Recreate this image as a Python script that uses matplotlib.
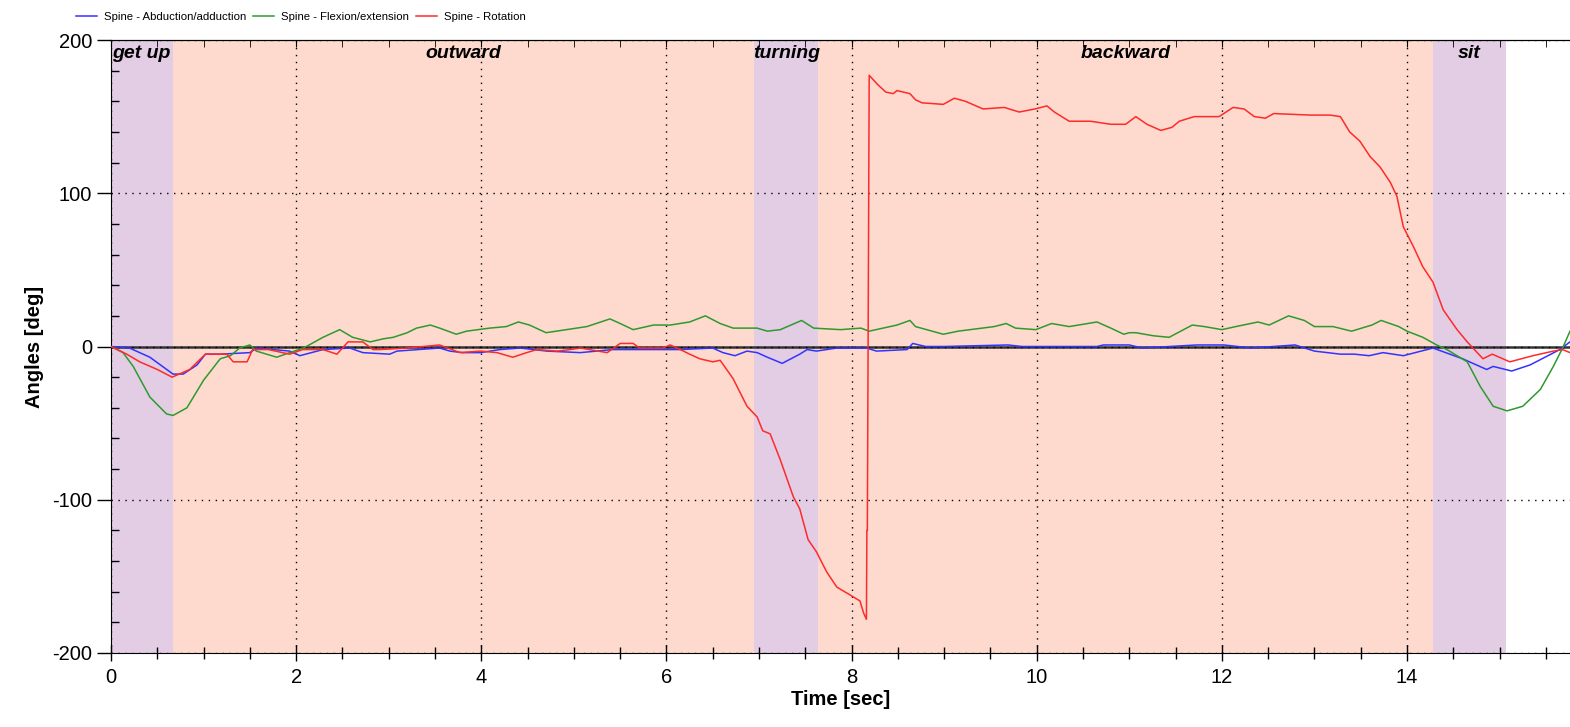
import matplotlib
matplotlib.use("Agg")
from matplotlib import pyplot as plt
from matplotlib.ticker import MultipleLocator

plt.rcParams['font.family'] = ['Liberation Sans', 'DejaVu Sans']
plt.rcParams['axes.unicode_minus'] = False

# Spine - Abduction/adduction (blue)
t_abd = [0, 0.2, 0.42, 0.67, 0.78, 0.93, 1.02, 1.18, 1.5, 1.57, 1.93, 2.04, 2.29, 2.58, 2.72,
         3.01, 3.09, 3.55, 3.66, 3.8, 3.99, 4.2, 4.42, 4.71, 5.07, 5.42, 5.79, 6.15, 6.5, 6.61,
         6.74, 6.87, 6.98, 7.09, 7.25, 7.44, 7.52, 7.62, 7.84, 8.16, 8.27, 8.6, 8.66, 8.8, 9.0,
         9.69, 9.84, 10.11, 10.65, 10.72, 10.92, 11.0, 11.14, 11.73, 12.02, 12.32, 12.79, 13.0,
         13.28, 13.43, 13.59, 13.74, 13.96, 14.28, 14.6, 14.86, 14.93, 15.13, 15.33, 15.65, 15.76]
abd = [0, -1, -7, -18, -18, -12, -5, -5, -4, -1, -3, -6, -2, -1, -4,
       -5, -3, -1, -3, -4, -4, -2, -1, -3, -4, -2, -2, -2, -1, -4,
       -6, -3, -4, -7, -11, -5, -2, -3, -1, -1, -3, -2, 2, 0, 0,
       1, 0, 0, 0, 1, 1, 1, -1, 1, 1, -1, 1, -3,
       -5, -5, -6, -4, -6, -1, -8, -15, -13, -16, -12, -2, 3]

# Spine - Flexion/extension (green)
t_flex = [0, 0.13, 0.24, 0.42, 0.6, 0.67, 0.82, 1.0, 1.18, 1.29, 1.39, 1.5, 1.57, 1.79, 1.93,
          2.08, 2.29, 2.47, 2.61, 2.8, 2.94, 3.05, 3.2, 3.3, 3.45, 3.55, 3.73, 3.84, 4.09, 4.27,
          4.4, 4.52, 4.7, 4.92, 5.14, 5.39, 5.5, 5.64, 5.86, 6.04, 6.25, 6.42, 6.58, 6.72, 6.87,
          6.98, 7.09, 7.23, 7.46, 7.59, 7.88, 8.1, 8.19, 8.49, 8.63, 8.69, 8.99, 9.15, 9.54,
          9.67, 9.77, 9.99, 10.16, 10.35, 10.65, 10.8, 10.94, 11.0, 11.07, 11.26, 11.43, 11.68,
          11.81, 12.0, 12.15, 12.39, 12.51, 12.72, 12.89, 13.0, 13.2, 13.4, 13.62, 13.72, 13.91,
          14.0, 14.17, 14.32, 14.43, 14.65, 14.79, 14.93, 15.08, 15.25, 15.44, 15.58, 15.68, 15.76]
flex = [0, -4, -13, -33, -44, -45, -40, -22, -8, -6, -1, 1, -3, -7, -4,
        -1, 6, 11, 6, 3, 5, 6, 9, 12, 14, 12, 8, 10, 12, 13,
        16, 14, 9, 11, 13, 18, 15, 11, 14, 14, 16, 20, 15, 12, 12,
        12, 10, 11, 17, 12, 11, 12, 10, 14, 17, 13, 8, 10, 13,
        15, 12, 11, 15, 13, 16, 12, 8, 9, 9, 7, 6, 14,
        13, 11, 13, 16, 14, 20, 17, 13, 13, 10, 14, 17, 13,
        10, 6, 1, -2, -10, -26, -39, -42, -39, -28, -13, -1, 10]

# Spine - Rotation (red)
t_rot = [0, 0.17, 0.31, 0.5, 0.66, 0.85, 1.02, 1.25, 1.32, 1.47, 1.53, 1.7, 1.93, 2.07, 2.29,
         2.44, 2.56, 2.72, 2.83, 2.9, 3.2, 3.55, 3.77, 3.99, 4.17, 4.34, 4.49, 4.6, 4.82, 4.96,
         5.07, 5.36, 5.5, 5.64, 5.71, 5.96, 6.04, 6.15, 6.25, 6.36, 6.5, 6.58, 6.72, 6.87, 6.98,
         7.04, 7.12, 7.23, 7.37, 7.44, 7.53, 7.62, 7.73, 7.84, 7.98, 8.09, 8.13, 8.16, 8.165,
         8.17, 8.19, 8.28, 8.37, 8.45, 8.49, 8.63, 8.69, 8.76, 8.99, 9.11, 9.23, 9.42, 9.65,
         9.81, 9.98, 10.11, 10.19, 10.35, 10.58, 10.8, 10.96, 11.07, 11.19, 11.34, 11.46, 11.54,
         11.7, 11.97, 12.12, 12.24, 12.35, 12.47, 12.56, 12.96, 13.17, 13.28, 13.38, 13.49, 13.6,
         13.71, 13.82, 13.89, 13.96, 14.07, 14.17, 14.28, 14.39, 14.54, 14.65, 14.82, 14.92,
         15.11, 15.36, 15.58, 15.68, 15.76]
rot = [0, -5, -10, -15, -20, -15, -5, -5, -10, -10, -2, -2, -5, -2, -2,
       -5, 3, 3, -2, -2, -1, 1, -4, -3, -4, -7, -4, -2, -3, -2,
       -1, -4, 2, 2, -1, -1, 1, -2, -5, -8, -10, -9, -21, -39, -46,
       -55, -57, -74, -98, -106, -126, -134, -147, -157, -162, -166, -174, -178, -120,
       -120, 177, 171, 166, 165, 167, 165, 161, 159, 158, 162, 160, 155, 156,
       153, 155, 157, 153, 147, 147, 145, 145, 150, 145, 141, 143, 147,
       150, 150, 156, 155, 150, 149, 152, 151, 151, 150, 140, 134, 124,
       117, 107, 98, 78, 65, 52, 42, 24, 11, 3, -8, -5,
       -10, -6, -3, -2, -4]

# phases of the movement
phase_names = ['get up', 'outward', 'turning', 'backward', 'sit']
phase_start = [0, 0.67, 6.95, 7.64, 14.28]
phase_end = [0.67, 6.95, 7.64, 14.28, 15.07]
phase_colors = ['#E2CDE4', '#FDDACD', '#E2CDE4', '#FDDACD', '#E2CDE4']

fig = plt.figure(figsize=(15.7, 7.27), dpi=100)
ax = fig.add_axes([111 / 1570, 1 - 653 / 727, 1 - 111 / 1570, 613 / 727])

for s, e, c in zip(phase_start, phase_end, phase_colors):
    ax.axvspan(s, e, color=c, lw=0, zorder=0)

ax.axhline(0, color='#333333', lw=1.8, zorder=2)
l1, = ax.plot(t_abd, abd, color='#3333FF', lw=1.1, zorder=3, label='Spine - Abduction/adduction')
l2, = ax.plot(t_flex, flex, color='#2E9A2E', lw=1.1, zorder=3, label='Spine - Flexion/extension')
l3, = ax.plot(t_rot, rot, color='#FF2A2A', lw=1.1, zorder=3, label='Spine - Rotation')

# phase labels
for i, name in enumerate(phase_names):
    if i == 0:
        ax.text(phase_start[i] + 0.01, 191, name, ha='left', va='center',
                fontsize=14, fontweight='bold', fontstyle='italic')
    else:
        ax.text((phase_start[i] + phase_end[i]) / 2, 191, name, ha='center', va='center',
                fontsize=14, fontweight='bold', fontstyle='italic')

ax.set_xlim(0, 15.76)
ax.set_ylim(-200, 200)
ax.xaxis.set_major_locator(MultipleLocator(2))
ax.xaxis.set_minor_locator(MultipleLocator(0.5))
ax.yaxis.set_major_locator(MultipleLocator(100))
ax.yaxis.set_minor_locator(MultipleLocator(20))
ax.grid(which='major', color='black', linestyle=(0, (1, 4)), lw=1)
ax.set_axisbelow(False)
for ln in ax.get_xgridlines() + ax.get_ygridlines():
    ln.set_zorder(1)

ax.spines['right'].set_visible(False)
ax.tick_params(axis='x', which='major', direction='inout', length=12, width=1, labelsize=14.5, pad=5)
ax.tick_params(axis='x', which='minor', direction='inout', length=9, width=1)
ax.tick_params(axis='y', which='major', direction='out', length=10, width=1, labelsize=14.5)
ax.tick_params(axis='y', which='minor', direction='in', length=6, width=1)

top = ax.secondary_xaxis('top')
top.xaxis.set_major_locator(MultipleLocator(2))
top.xaxis.set_minor_locator(MultipleLocator(0.5))
top.tick_params(which='both', direction='in', length=5, labeltop=False)

ax.set_xlabel('Time [sec]', fontsize=14.5, fontweight='bold', labelpad=2)
ax.set_ylabel('Angles [deg]', fontsize=14.5, fontweight='bold', labelpad=6)

fig.legend(handles=[l1, l2, l3], loc='center left', bbox_to_anchor=(0.045, 0.976), ncol=3,
           frameon=False, fontsize=8.2, handlelength=1.85, handletextpad=0.6, columnspacing=0.6,
           borderpad=0)

fig.savefig('out.png', dpi=100)
